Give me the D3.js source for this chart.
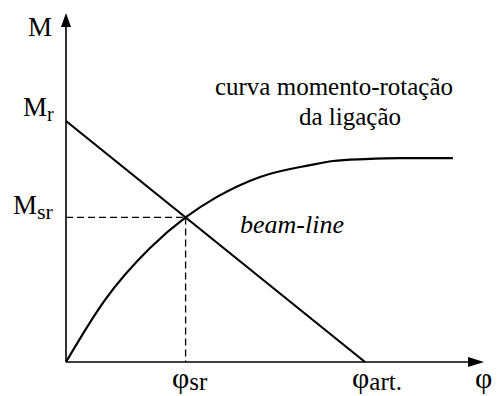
<!DOCTYPE html>
<html>
<head>
<meta charset="utf-8">
<script src="https://cdn.jsdelivr.net/npm/d3@7"></script>
<style>
  body { margin: 0; background: #fff; }
  text { font-family: "Liberation Serif", "Times New Roman", serif; fill: #000; }
</style>
</head>
<body>
<div id="chart"></div>
<script>
/* chart values (normalised units: phi_art = 1, M_r = 1) */
var phiSr = 0.4, phiArt = 1.0;
var mR = 1.0, mSr = 0.6;
var beamLine = [[0, mR], [phiArt, 0]];
var curvePhi = [0, 0.13, 0.281, 0.4, 0.505, 0.649, 0.816, 0.893, 1.0, 1.117, 1.294];
var curveM   = [0, 0.257, 0.473, 0.6, 0.685, 0.768, 0.817, 0.834, 0.842, 0.846, 0.846];
var curveLabel = ["curva momento-rotação", "da ligação"];

var width = 499, height = 396;
var svg = d3.select("#chart").append("svg")
	.attr("width", width)
	.attr("height", height);

var x = d3.scaleLinear().domain([0, 1]).range([66, 365]);
var y = d3.scaleLinear().domain([0, 1]).range([362, 121]);

var xMax = x.invert(484), yMax = y.invert(13);

// axes
svg.append("line")
	.attr("x1", x(0)).attr("y1", y(0))
	.attr("x2", x(xMax) - 10).attr("y2", y(0))
	.attr("stroke", "#000").attr("stroke-width", 1.6);
svg.append("line")
	.attr("x1", x(0)).attr("y1", y(0))
	.attr("x2", x(0)).attr("y2", y(yMax) + 10)
	.attr("stroke", "#000").attr("stroke-width", 1.6);

// arrow heads
svg.append("path")
	.attr("d", "M" + x(xMax) + "," + y(0) + " l-16,-5 l0,10 z")
	.attr("fill", "#000");
svg.append("path")
	.attr("d", "M" + x(0) + "," + y(yMax) + " l-5,14 l10,0 z")
	.attr("fill", "#000");

// dashed guides
svg.append("line")
	.attr("x1", x(0)).attr("y1", y(mSr))
	.attr("x2", x(phiSr)).attr("y2", y(mSr))
	.attr("stroke", "#000").attr("stroke-width", 1.3)
	.attr("stroke-dasharray", "7,4");
svg.append("line")
	.attr("x1", x(phiSr)).attr("y1", y(mSr))
	.attr("x2", x(phiSr)).attr("y2", y(0))
	.attr("stroke", "#000").attr("stroke-width", 1.3)
	.attr("stroke-dasharray", "7,4");

var line = d3.line()
	.x(function(d) { return x(d[0]); })
	.y(function(d) { return y(d[1]); });

// beam-line
svg.append("path")
	.attr("d", line(beamLine))
	.attr("fill", "none").attr("stroke", "#000").attr("stroke-width", 2.2);

// moment-rotation curve
var curveData = curvePhi.map(function(p, i) { return [p, curveM[i]]; });
svg.append("path")
	.attr("d", line.curve(d3.curveMonotoneX)(curveData))
	.attr("fill", "none").attr("stroke", "#000").attr("stroke-width", 2.2);

// labels
function label(txt, sub, px, py, size, subSize, subDy) {
	var t = svg.append("text")
		.attr("x", px).attr("y", py)
		.style("font-size", size + "px")
		.text(txt);
	if (sub) {
		t.append("tspan")
			.attr("dy", subDy)
			.style("font-size", subSize + "px")
			.text(sub);
	}
}
label("M", null, 28, 36, 27);
label("M", "r", 23, 116, 27, 20, 5);
label("M", "sr", 13, 214, 27, 22, 5);
label("φ", "sr", 172, 388, 30, 25, 2);
label("φ", "art.", 352, 388, 30, 25, 2);
label("φ", null, 475, 388, 30);

svg.append("text")
	.attr("x", 240).attr("y", 233)
	.style("font-size", "26px")
	.style("font-style", "italic")
	.text("beam-line");

svg.selectAll(".clabel")
	.data(curveLabel)
	.enter().append("text")
	.attr("class", "clabel")
	.attr("x", function(d, i) { return i == 0 ? 334 : 350; })
	.attr("y", function(d, i) { return 95 + i * 30; })
	.attr("text-anchor", "middle")
	.style("font-size", "25px")
	.text(function(d) { return d; });
</script>
</body>
</html>
